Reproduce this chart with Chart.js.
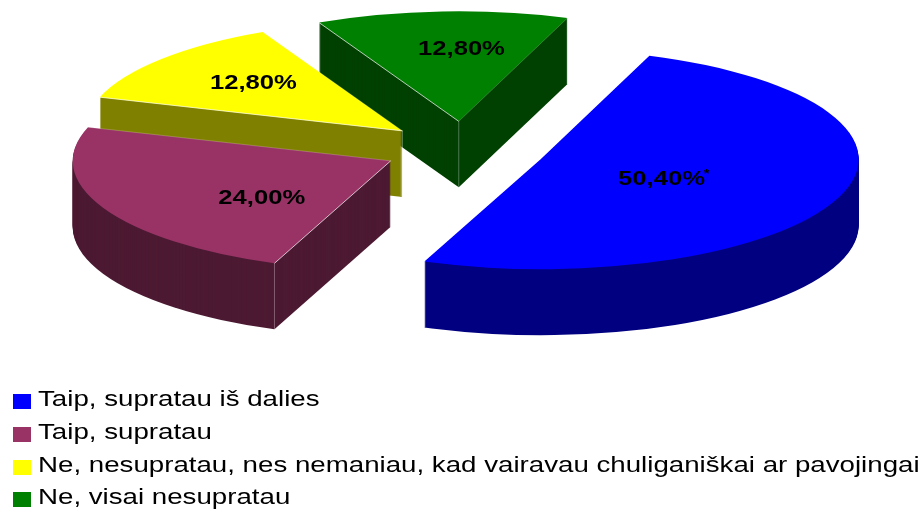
<!DOCTYPE html>
<html>
<head>
  <meta charset="utf-8">
  <title>Taip, supratau</title>
  <style>
    body {
      margin: 0;
      background: white;
      font-family: "Liberation Sans", Arial, sans-serif;
    }
    .wrap {
      position: relative;
      width: 920px;
      height: 509px;
      overflow: hidden;
    }
    #legend {
      position: absolute;
      left: 13px;
      top: 383px;
    }
    #legend div {
      height: 32.8px;
      line-height: 32.8px;
      font-size: 22px;
      color: #000;
      white-space: nowrap;
    }
    #legend i {
      display: inline-block;
      width: 18px;
      height: 15px;
      margin-right: 7px;
      vertical-align: -3px;
    }
    #legend span {
      display: inline-block;
      transform-origin: left center;
      transform: scaleX(1.258);
    }
  </style>
</head>
<body>
  <div class="wrap">
    <canvas id="pie" width="920" height="509"></canvas>
    <div id="legend"></div>
  </div>

  <script src="https://cdn.jsdelivr.net/npm/chart.js"></script>
  <script>
    const categories = [
      "Taip, supratau iš dalies",
      "Taip, supratau",
      "Ne, nesupratau, nes nemaniau, kad vairavau chuliganiškai ar pavojingai",
      "Ne, visai nesupratau"
    ];
    const values = [50.4, 24, 12.8, 12.8];
    const valueLabels = ["50,40%", "24,00%", "12,80%", "12,80%"];
    const valueNotes = ["*", "", "", ""];
    const topColors = ["#0000ff", "#993366", "#ffff00", "#008000"];
    const wallColors = ["#000080", "#4d1a33", "#808000", "#004000"];

    // look of the tilted pie
    const squash = 0.346;
    const depth = 66;
    const explode = [83, 80, 80, 80];
    const labelDist = [0.42, 0.48, 0.62, 0.67];
    const labelNudge = [[-4, 4], [9, 15], [0, -3], [14, 1]];

    function sliceCenter(arc, i) {
      const mid = (arc.startAngle + arc.endAngle) / 2;
      return {
        x: arc.x + Math.cos(mid) * explode[i],
        y: arc.y + Math.sin(mid) * explode[i] * squash
      };
    }

    // chart.js only does flat pies, so squash the arcs and stack them for the walls
    const tiltedPie = {
      id: "tiltedPie",
      beforeDatasetDraw(chart, args) {
        const ctx = chart.ctx;
        const arcs = args.meta.data;
        const backToFront = [3, 2, 1, 0];

        backToFront.forEach((i) => {
          const arc = arcs[i];
          const c = sliceCenter(arc, i);
          ctx.fillStyle = wallColors[i];
          for (let k = depth; k > 0; k--) {
            ctx.save();
            ctx.translate(c.x, c.y + k);
            ctx.scale(1, squash);
            ctx.beginPath();
            ctx.moveTo(0, 0);
            ctx.arc(0, 0, arc.outerRadius, arc.startAngle, arc.endAngle);
            ctx.closePath();
            ctx.fill();
            ctx.restore();
          }
        });

        backToFront.forEach((i) => {
          const arc = arcs[i];
          const c = sliceCenter(arc, i);
          ctx.save();
          ctx.translate(c.x, c.y);
          ctx.scale(1, squash);
          ctx.translate(-arc.x, -arc.y);
          arc.draw(ctx);
          ctx.restore();

          // thin light edges where the top meets the walls
          const rim = (angle) => ({
            x: c.x + Math.cos(angle) * arc.outerRadius,
            y: c.y + Math.sin(angle) * arc.outerRadius * squash
          });
          const line = (x1, y1, x2, y2, alpha) => {
            ctx.strokeStyle = "rgba(255,255,255," + alpha + ")";
            ctx.lineWidth = 1;
            ctx.beginPath();
            ctx.moveTo(x1, y1);
            ctx.lineTo(x2, y2);
            ctx.stroke();
          };
          const s = rim(arc.startAngle);
          const e = rim(arc.endAngle);
          if (i > 0) {
            line(c.x, c.y, s.x, s.y, 0.7);
            line(c.x, c.y, e.x, e.y, 0.2);
          }
          if (Math.sin((arc.startAngle + arc.endAngle) / 2) < 0) {
            line(c.x, c.y, c.x, c.y + depth, 0.3);
          }
          if (i > 0 && Math.sin(arc.startAngle) > 0) {
            line(s.x, s.y, s.x, s.y + depth, 0.3);
          }
        });
        return false;
      },
      afterDatasetsDraw(chart) {
        const ctx = chart.ctx;
        const arcs = chart.getDatasetMeta(0).data;
        arcs.forEach((arc, i) => {
          const c = sliceCenter(arc, i);
          const mid = (arc.startAngle + arc.endAngle) / 2;
          const r = arc.outerRadius * labelDist[i];
          const x = c.x + Math.cos(mid) * r + labelNudge[i][0];
          const y = c.y + Math.sin(mid) * r * squash + labelNudge[i][1];
          ctx.save();
          ctx.translate(x, y);
          ctx.scale(1.22, 1);
          ctx.fillStyle = "#000";
          ctx.font = "bold 21px 'Liberation Sans', Arial, sans-serif";
          ctx.textAlign = "center";
          ctx.textBaseline = "middle";
          ctx.fillText(valueLabels[i], 0, 0);
          if (valueNotes[i]) {
            const w = ctx.measureText(valueLabels[i]).width;
            ctx.font = "bold 12px 'Liberation Sans', Arial, sans-serif";
            ctx.textAlign = "left";
            ctx.fillText(valueNotes[i], w / 2 - 1, -5);
          }
          ctx.restore();
        });
      }
    };

    new Chart(document.getElementById("pie").getContext("2d"), {
      type: "pie",
      data: {
        labels: categories,
        datasets: [{
          data: values,
          backgroundColor: topColors,
          borderWidth: 0
        }]
      },
      options: {
        responsive: false,
        animation: false,
        rotation: 20,
        radius: 318,
        layout: { padding: { left: 6, bottom: 211 } },
        plugins: {
          legend: { display: false },
          tooltip: { enabled: false }
        }
      },
      plugins: [tiltedPie]
    });

    const legendBox = document.getElementById("legend");
    categories.forEach((name, i) => {
      const row = document.createElement("div");
      const swatch = document.createElement("i");
      swatch.style.background = topColors[i];
      const text = document.createElement("span");
      text.textContent = name;
      row.appendChild(swatch);
      row.appendChild(text);
      legendBox.appendChild(row);
    });
  </script>
</body>
</html>
